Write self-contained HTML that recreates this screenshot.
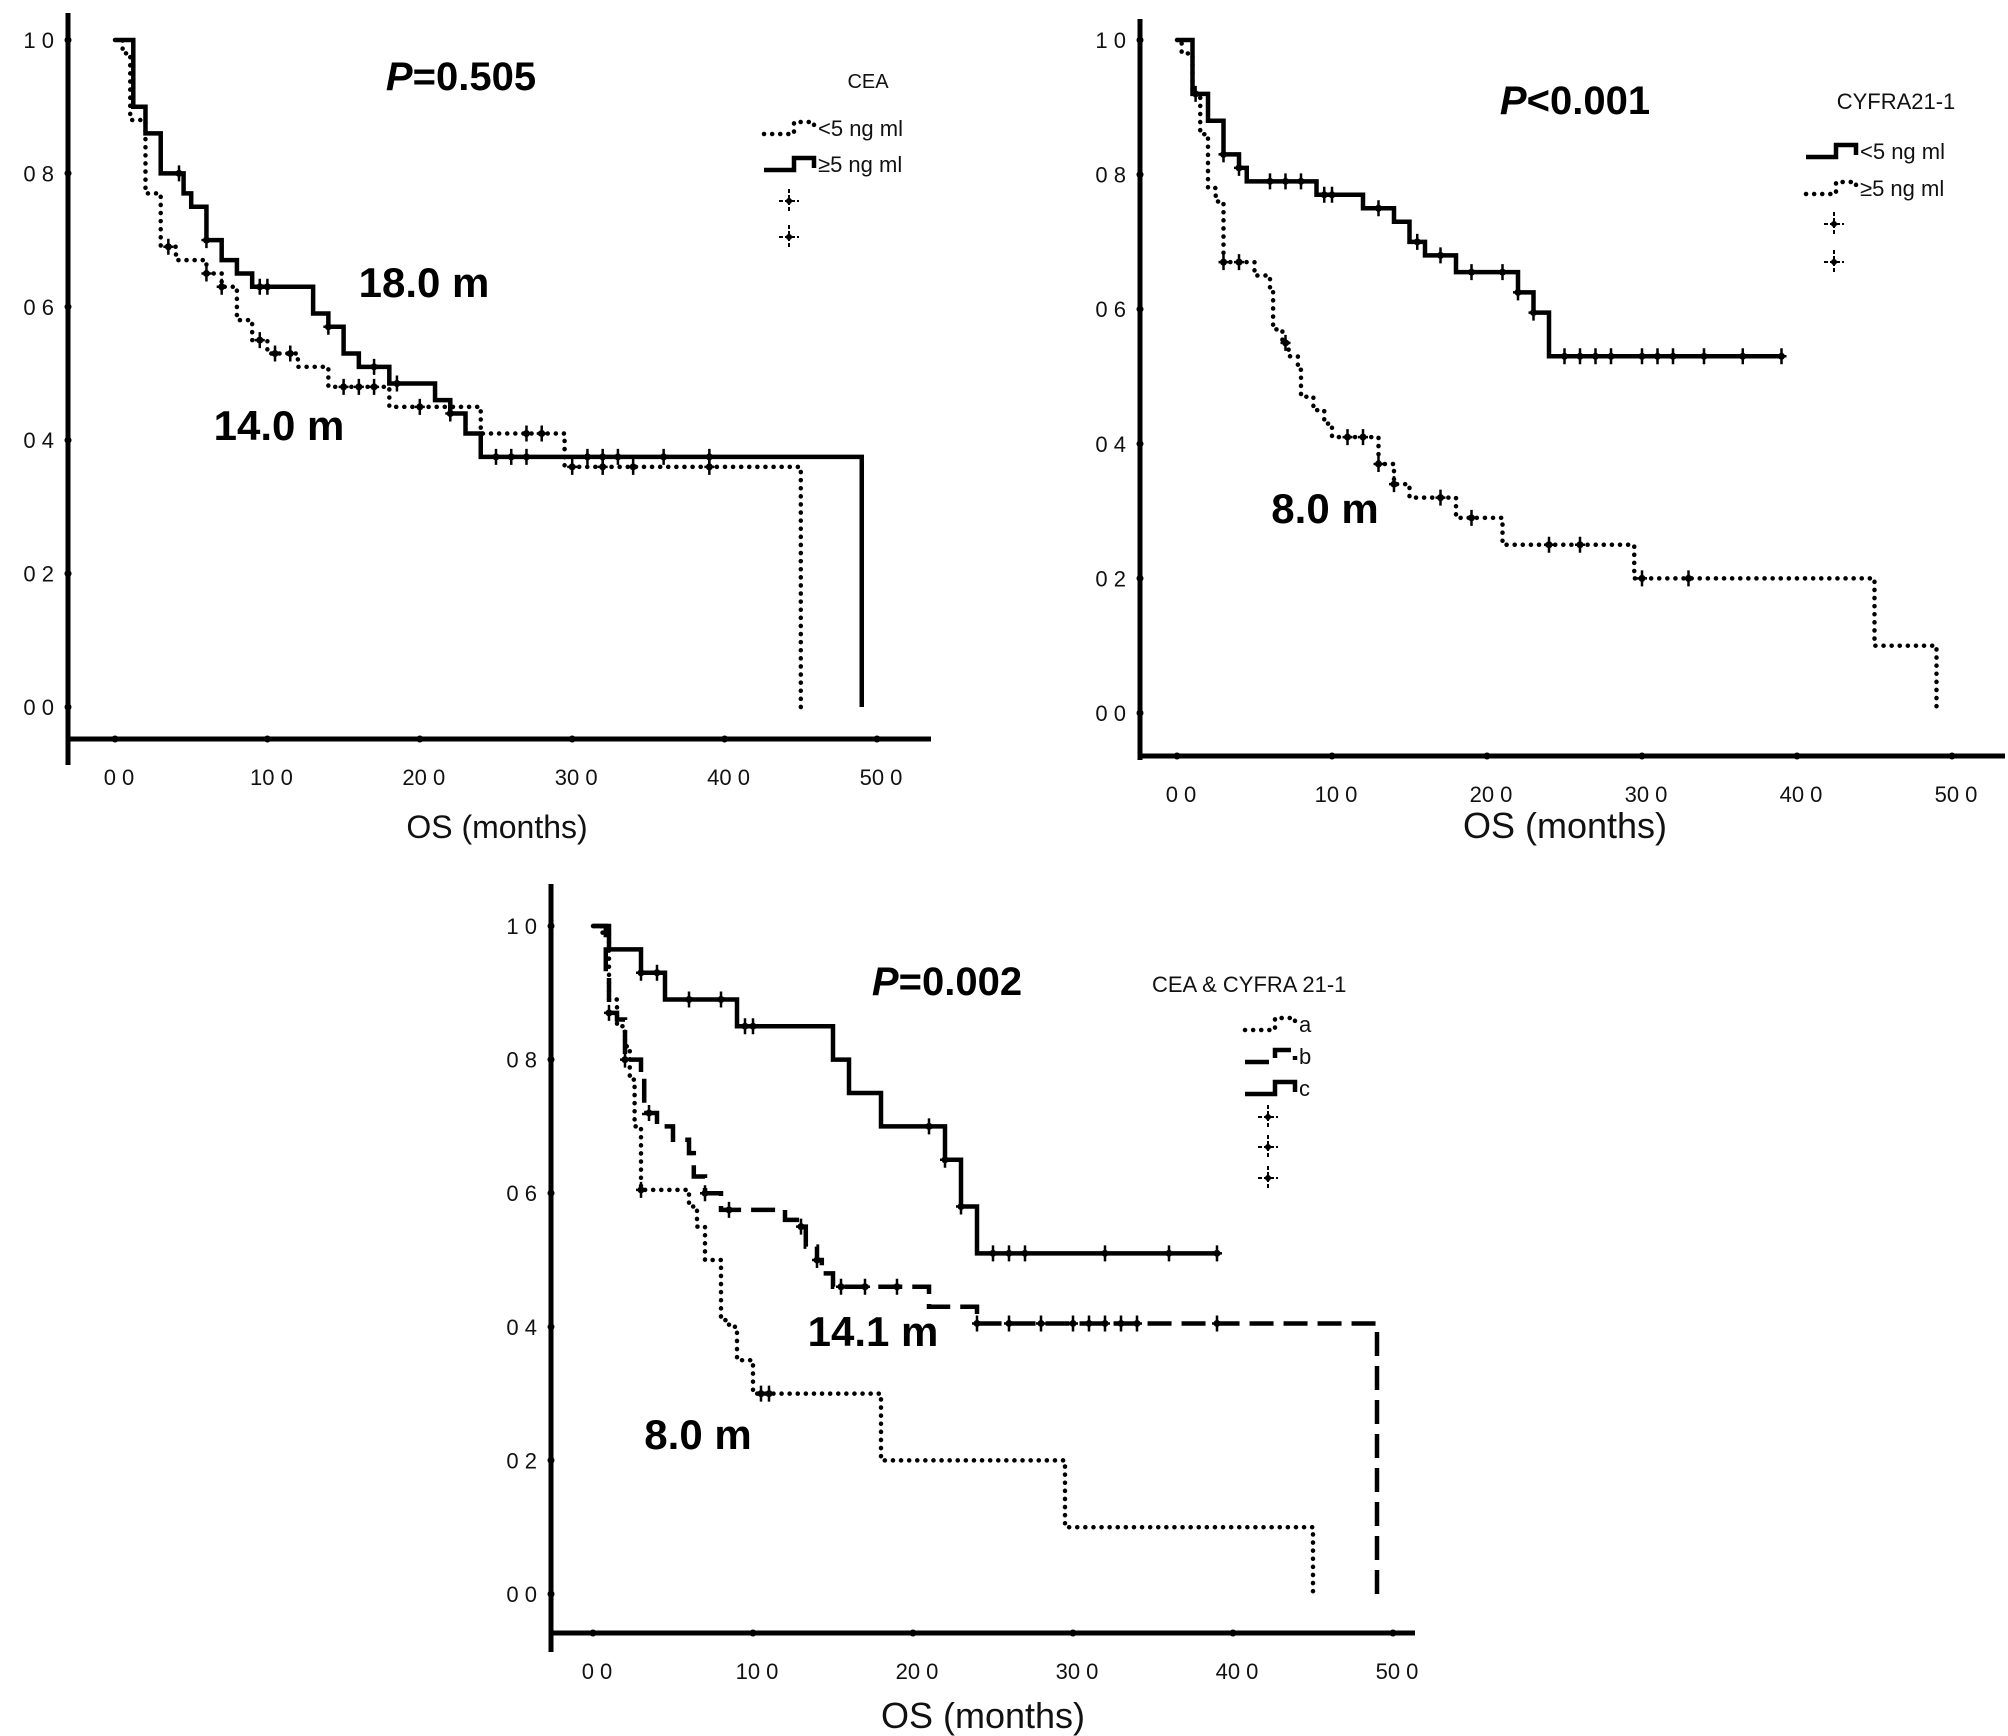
<!DOCTYPE html>
<html><head><meta charset="utf-8">
<style>
html,body{margin:0;padding:0;background:#fff;}
svg{display:block;font-family:"Liberation Sans",sans-serif;}
</style></head>
<body>
<svg id="chart" width="2008" height="1736" viewBox="0 0 2008 1736"></svg>
<script>
// ---------- DATA ----------
// Panel 1 : CEA
const p1DotTimes = [0, 0.5, 1, 2, 3, 4, 6, 7, 8, 9, 10, 12, 14, 18, 24, 29.5, 45];
const p1DotSurv  = [1.0, 0.98, 0.88, 0.77, 0.69, 0.67, 0.65, 0.63, 0.58, 0.55, 0.53, 0.51, 0.48, 0.45, 0.41, 0.36, 0.0];
const p1DotCens  = [3.5, 6, 7, 9.5, 10.5, 11.5, 15, 16, 17, 20, 27, 28, 30, 32, 34, 39];
const p1SolTimes = [0, 1.2, 2, 3, 4.5, 5, 6, 7, 8, 9, 13, 14, 15, 16, 18, 21, 22, 23, 24, 49];
const p1SolSurv  = [1.0, 0.90, 0.86, 0.80, 0.77, 0.75, 0.70, 0.67, 0.65, 0.63, 0.59, 0.57, 0.53, 0.51, 0.485, 0.46, 0.44, 0.41, 0.375, 0.0];
const p1SolCens  = [4.2, 6, 9.5, 10, 14, 17, 18.5, 22, 25, 26, 27, 31, 32, 33, 36, 39];
const p1SolEnd = 49, p1DotEnd = 45;
// Panel 2 : CYFRA21-1
const p2SolTimes = [0, 1, 2, 3, 4, 4.5, 9, 12, 14, 15, 16, 18, 22, 23, 24];
const p2SolSurv  = [1.0, 0.92, 0.88, 0.83, 0.81, 0.79, 0.77, 0.75, 0.73, 0.70, 0.68, 0.655, 0.625, 0.595, 0.53];
const p2SolCens  = [1.2, 3, 4, 6, 7, 8, 9.5, 10, 13, 15.5, 17, 19, 21, 22, 23, 25, 26, 27, 28, 30, 31, 32, 34, 36.5, 39];
const p2DotTimes = [0, 0.3, 1, 1.5, 2, 2.5, 3, 5, 6, 6.2, 6.8, 7.2, 7.8, 8, 8.8, 9.5, 10, 13, 14, 15, 18, 21, 29.5, 45, 49];
const p2DotSurv  = [1.0, 0.98, 0.92, 0.86, 0.78, 0.76, 0.67, 0.65, 0.63, 0.57, 0.55, 0.53, 0.51, 0.47, 0.45, 0.43, 0.41, 0.37, 0.34, 0.32, 0.29, 0.25, 0.20, 0.10, 0.01];
const p2DotCens  = [3, 4, 7, 11, 12, 13, 14, 17, 19, 24, 26, 30, 33];
const p2SolEnd = 39, p2DotEnd = 49;
// Panel 3 : CEA & CYFRA 21-1
const p3aTimes = [0, 0.5, 1, 1.5, 2, 2.3, 2.6, 3, 6, 6.5, 7, 8, 8.5, 9, 10, 18, 29.5, 45];
const p3aSurv  = [1.0, 0.99, 0.89, 0.85, 0.82, 0.77, 0.70, 0.605, 0.58, 0.55, 0.50, 0.41, 0.40, 0.35, 0.30, 0.20, 0.10, 0.0];
const p3aCens  = [3, 10.5, 11];
const p3bTimes = [0, 0.8, 1, 1.5, 2, 3, 3.2, 4, 5, 6, 6.3, 7, 8, 12, 13, 13.3, 14, 14.3, 15, 21, 24, 49];
const p3bSurv  = [1.0, 0.93, 0.87, 0.86, 0.80, 0.78, 0.72, 0.70, 0.68, 0.66, 0.625, 0.60, 0.575, 0.56, 0.55, 0.52, 0.50, 0.48, 0.46, 0.43, 0.405, 0.0];
const p3bCens  = [1, 2, 3.5, 7, 8.5, 13, 14, 15.5, 17, 19, 24, 26, 28, 30, 31, 32, 33, 34, 39];
const p3cTimes = [0, 1, 3, 4.5, 9, 15, 16, 18, 22, 23, 24];
const p3cSurv  = [1.0, 0.965, 0.93, 0.89, 0.85, 0.80, 0.75, 0.70, 0.65, 0.58, 0.51];
const p3cCens  = [3, 4, 6, 8, 9.5, 10, 21, 22, 23, 25, 26, 27, 32, 36, 39];
const p3aEnd = 45, p3bEnd = 49, p3cEnd = 39;
const xTickVals = [0, 10, 20, 30, 40, 50];
const xTickLabels = ["0 0", "10 0", "20 0", "30 0", "40 0", "50 0"];
const yTickVals = [0, 0.2, 0.4, 0.6, 0.8, 1.0];
const yTickLabels = ["0 0", "0 2", "0 4", "0 6", "0 8", "1 0"];

const NS = "http://www.w3.org/2000/svg";
const svg = document.getElementById("chart");
function mk(tag, attrs, parent) {
  const e = document.createElementNS(NS, tag);
  for (const k in attrs) e.setAttribute(k, attrs[k]);
  (parent || svg).appendChild(e);
  return e;
}
function txt(s, attrs, parent) { const e = mk("text", attrs, parent); e.textContent = s; return e; }

function makePanel(name, cfg) {
  const g = mk("g", {});
  
  
  const sx = t => cfg.x0 + (cfg.x50 - cfg.x0) * t / 50;
  const sy = v => cfg.y0 + (cfg.y1 - cfg.y0) * v;
  const ya = mk("line", {x1: cfg.ax, y1: cfg.axTop, x2: cfg.ax, y2: cfg.axBot, stroke: "#000", "stroke-width": 5}, g);
  
  
  const xa = mk("line", {x1: cfg.ax - 2, y1: cfg.ay, x2: cfg.axRight, y2: cfg.ay, stroke: "#000", "stroke-width": 5}, g);
  
  
  yTickVals.forEach((v, i) => {
    mk("circle", {cx: cfg.ax, cy: sy(v), r: 3.5, fill: "#000"}, g);
    const t = txt(yTickLabels[i], {x: cfg.ax - 14, y: sy(v) + 8, "text-anchor": "end", "font-size": 22, fill: "#111"}, g);
    
    
  });
  xTickVals.forEach((v, i) => {
    mk("circle", {cx: sx(v), cy: cfg.ay, r: 3.5, fill: "#000"}, g);
    const t = txt(xTickLabels[i], {x: sx(v) + 4, y: cfg.ay + 46, "text-anchor": "middle", "font-size": 22, fill: "#111"}, g);
    
    
  });
  const xt = txt("OS (months)", {x: cfg.osX, y: cfg.osY, "text-anchor": "middle", "font-size": cfg.osSize, fill: "#111"}, g);
  
  
  return {g, sx, sy};
}

function survAt(times, surv, t) {
  let v = surv[0];
  for (let i = 0; i < times.length; i++) if (times[i] <= t) v = surv[i];
  return v;
}

function drawCurve(P, name, times, surv, end, cens, style) {
  let d = "M" + P.sx(times[0]) + "," + P.sy(surv[0]);
  for (let i = 1; i < times.length; i++) {
    d += " H" + P.sx(times[i]) + " V" + P.sy(surv[i]);
  }
  const last = times[times.length - 1];
  if (end > last) d += " H" + P.sx(end);
  const p = mk("path", Object.assign({d: d, fill: "none", stroke: "#000", "stroke-width": style.w, "stroke-linejoin": "miter"}, style.dash ? {"stroke-dasharray": style.dash, "stroke-linecap": style.cap || "butt"} : {}), P.g);
  
  
  cens.forEach(c => {
    const cx = P.sx(c), cy = P.sy(survAt(times, surv, c));
    const m = mk("path", {d: `M${cx},${cy - 8} V${cy + 8} M${cx - 5},${cy} H${cx + 5}`, stroke: "#000", "stroke-width": 2.5}, P.g);
    
    
    mk("circle", {cx: cx, cy: cy, r: 3.5, fill: "#000"}, P.g);
  });
}

const DOT = {w: 4.5, dash: "0.1 8", cap: "round"};
const SOLID = {w: 4.5};
const DASH = {w: 4.5, dash: "24 10"};

function legendRow(P, name, x, y, label, style) {
  const d = `M${x},${y + 6} H${x + 30} V${y - 6} H${x + 50} V${y + 4}`;
  const p = mk("path", Object.assign({d: d, fill: "none", stroke: "#000", "stroke-width": style.w}, style.dash ? {"stroke-dasharray": style.dash, "stroke-linecap": style.cap || "butt"} : {}), P.g);
  
  
  const t = txt(label, {x: x + 54, y: y + 8, "font-size": 22, fill: "#111"}, P.g);
  
  
}
function legendPlus(P, x, y) {
  const m = mk("path", {d: `M${x},${y - 12} V${y + 12} M${x - 10},${y} H${x + 10}`, stroke: "#000", "stroke-width": 2, "stroke-dasharray": "4 2"}, P.g);
  
  
  mk("circle", {cx: x, cy: y, r: 3, fill: "#000"}, P.g);
}
function boldText(P, name, s, x, y, size, italicP) {
  const t = mk("text", {x: x, y: y, "font-size": size, "font-weight": "bold", fill: "#000", "text-anchor": "middle"}, P.g);
  
  
  if (italicP) {
    const a = document.createElementNS(NS, "tspan"); a.setAttribute("font-style", "italic"); a.textContent = "P"; t.appendChild(a);
    const b = document.createElementNS(NS, "tspan"); b.textContent = s; t.appendChild(b);
  } else t.textContent = s;
}

// ---------- PANEL 1 ----------
const P1 = makePanel("panel-cea", {x0: 115, x50: 877, y0: 707, y1: 40, ax: 68, axTop: 13, axBot: 765, ay: 739, axRight: 931, osX: 497, osY: 838, osSize: 32});
drawCurve(P1, "curve-cea-low", p1DotTimes, p1DotSurv, p1DotEnd, p1DotCens, DOT);
drawCurve(P1, "curve-cea-high", p1SolTimes, p1SolSurv, p1SolEnd, p1SolCens, SOLID);
boldText(P1, "p-value-label", "=0.505", 461, 90, 40, true);
boldText(P1, "median-label-18", "18.0 m", 424, 297, 42);
boldText(P1, "median-label-14", "14.0 m", 279, 440, 42);
txt("CEA", {x: 868, y: 88, "font-size": 20, "text-anchor": "middle", fill: "#111"}, P1.g);
legendRow(P1, "legend-entry-cea-low", 764, 128, "<5 ng ml", DOT);
legendRow(P1, "legend-entry-cea-high", 764, 164, "\u22655 ng ml", SOLID);
legendPlus(P1, 789, 201);
legendPlus(P1, 789, 237);

// ---------- PANEL 2 ----------
const P2 = makePanel("panel-cyfra", {x0: 1177, x50: 1952, y0: 713, y1: 40, ax: 1140, axTop: 19, axBot: 760, ay: 756, axRight: 2005, osX: 1565, osY: 838, osSize: 36});
drawCurve(P2, "curve-cyfra-low", p2SolTimes, p2SolSurv, p2SolEnd, p2SolCens, SOLID);
drawCurve(P2, "curve-cyfra-high", p2DotTimes, p2DotSurv, p2DotEnd, p2DotCens, DOT);
boldText(P2, "p-value-label", "<0.001", 1575, 114, 40, true);
boldText(P2, "median-label-8", "8.0 m", 1325, 523, 42);
txt("CYFRA21-1", {x: 1896, y: 109, "font-size": 22, "text-anchor": "middle", fill: "#111"}, P2.g);
legendRow(P2, "legend-entry-cyfra-low", 1806, 151, "<5 ng ml", SOLID);
legendRow(P2, "legend-entry-cyfra-high", 1806, 188, "\u22655 ng ml", DOT);
legendPlus(P2, 1834, 224);
legendPlus(P2, 1834, 262);

// ---------- PANEL 3 ----------
const P3 = makePanel("panel-combined", {x0: 593, x50: 1393, y0: 1594, y1: 926, ax: 551, axTop: 884, axBot: 1652, ay: 1633, axRight: 1415, osX: 983, osY: 1728, osSize: 36});
drawCurve(P3, "curve-group-a", p3aTimes, p3aSurv, p3aEnd, p3aCens, DOT);
drawCurve(P3, "curve-group-b", p3bTimes, p3bSurv, p3bEnd, p3bCens, DASH);
drawCurve(P3, "curve-group-c", p3cTimes, p3cSurv, p3cEnd, p3cCens, SOLID);
boldText(P3, "p-value-label", "=0.002", 947, 995, 40, true);
boldText(P3, "median-label-14-1", "14.1 m", 873, 1346, 42);
boldText(P3, "median-label-8", "8.0 m", 698, 1449, 42);
txt("CEA & CYFRA 21-1", {x: 1152, y: 992, "font-size": 22, fill: "#111"}, P3.g);
legendRow(P3, "legend-entry-a", 1245, 1024, "a", DOT);
legendRow(P3, "legend-entry-b", 1245, 1056, "b", DASH);
legendRow(P3, "legend-entry-c", 1245, 1088, "c", SOLID);
legendPlus(P3, 1268, 1117);
legendPlus(P3, 1268, 1147);
legendPlus(P3, 1268, 1178);
</script>
</body></html>
